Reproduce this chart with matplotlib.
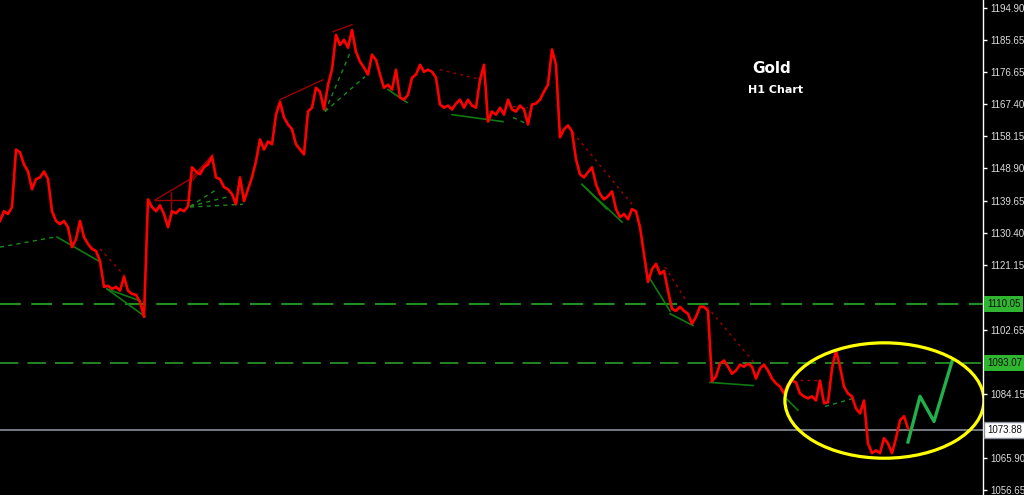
import matplotlib
matplotlib.use("Agg")
import matplotlib.pyplot as plt
from matplotlib.patches import Ellipse
from matplotlib.transforms import blended_transform_factory

# ---------------- data ----------------
# hourly closes (one sample every 4 bars of screen width)
closes = [
    1133.8, 1136.6, 1135.8, 1137.8, 1154.3, 1153.5, 1150.0, 1148.0, 1142.9, 1145.8,
    1146.3, 1148.0, 1145.8, 1136.6, 1133.8, 1132.9, 1133.8, 1132.0, 1126.3, 1128.6,
    1133.8, 1129.2, 1127.2, 1125.8, 1125.2, 1122.3, 1114.9, 1115.2, 1114.3, 1114.9,
    1113.8, 1117.8, 1113.8, 1112.9, 1112.6, 1110.6, 1106.3, 1140.0, 1137.8, 1136.6,
    1138.3, 1135.8, 1132.0, 1136.6, 1136.0, 1137.2, 1136.6, 1138.0, 1149.2, 1148.0,
    1147.2, 1149.2, 1150.0, 1152.3, 1146.3, 1145.8, 1143.5, 1142.9, 1141.5, 1138.6,
    1146.3, 1139.5, 1142.9, 1146.3, 1150.9, 1157.2, 1154.3, 1156.6, 1155.8, 1164.3,
    1168.0, 1163.5, 1161.5, 1160.1, 1155.8, 1154.3, 1152.9, 1165.2, 1166.3, 1172.0,
    1170.9, 1165.8, 1172.9, 1177.2, 1187.2, 1184.3, 1185.8, 1183.5, 1188.6, 1182.3,
    1179.5, 1177.8, 1175.8, 1181.5, 1180.0, 1175.8, 1172.0, 1172.9, 1171.5, 1177.2,
    1169.2, 1168.6, 1170.0, 1174.9, 1175.8, 1178.6, 1176.6, 1177.2, 1176.6, 1174.9,
    1167.2, 1166.3, 1166.9, 1165.8, 1167.5, 1168.6, 1166.3, 1168.6, 1166.9, 1166.3,
    1174.3, 1178.6, 1162.3, 1165.2, 1164.3, 1166.3, 1164.3, 1168.6, 1165.8, 1165.2,
    1166.9, 1165.8, 1161.5, 1167.2, 1167.5, 1168.6, 1170.9, 1172.9, 1183.0, 1178.6,
    1157.8, 1160.1, 1161.2, 1159.5, 1151.5, 1147.2, 1146.3, 1147.8, 1149.2, 1144.3,
    1141.5, 1140.0, 1140.9, 1142.3, 1137.2, 1134.9, 1135.8, 1134.3, 1137.2, 1136.6,
    1132.0, 1124.3, 1116.3, 1120.0, 1121.5, 1118.6, 1119.5, 1113.8, 1108.6, 1108.0,
    1109.2, 1108.0, 1107.2, 1104.3, 1106.3, 1109.2, 1109.2, 1108.0, 1087.8, 1089.2,
    1092.9, 1093.8, 1092.0, 1090.0, 1090.9, 1092.6, 1092.0, 1092.9, 1092.0, 1088.6,
    1091.5, 1092.6, 1090.9, 1088.6, 1087.2, 1086.3, 1084.3, 1086.9, 1088.0, 1087.5,
    1084.3, 1083.5, 1082.9, 1083.5, 1082.3, 1088.0, 1081.5, 1081.8, 1091.5, 1096.6,
    1092.0, 1086.3, 1084.3, 1083.5, 1080.0, 1078.6, 1082.3, 1070.0, 1067.2, 1068.0,
    1067.2, 1071.5, 1070.0, 1067.2, 1071.5, 1076.6, 1077.8, 1074.3,
]

# projected path (green)
proj_x = [227, 230, 233.5, 238]
proj_y = [1070.4, 1083.5, 1076.3, 1093.5]

# horizontal levels
level_upper = 1110.05
level_lower = 1093.07
last_price = 1073.88

# right axis ticks (labels hidden behind the level boxes are left blank)
tick_values = [1194.90, 1185.65, 1176.65, 1167.40, 1158.15, 1148.90, 1139.65,
               1130.40, 1121.15, 1111.90, 1102.65, 1093.40, 1084.15, 1075.15,
               1065.90, 1056.65]
tick_labels = ["1194.90", "1185.65", "1176.65", "1167.40", "1158.15", "1148.90",
               "1139.65", "1130.40", "1121.15", "", "1102.65", "", "1084.15",
               "", "1065.90", "1056.65"]

# fractal trend lines: (x0, y0, x1, y1)
red_solid = [
    (38.75, 1139.8, 48.25, 1146.3), (38.75, 1139.8, 47.5, 1139.8),
    (42.75, 1142.1, 42.75, 1135.2), (48.25, 1146.6, 53.25, 1152.9),
    (48.25, 1145.6, 52.5, 1151.5), (70, 1168.6, 80.75, 1174.3),
    (83.25, 1188.1, 88, 1190.1),
]
red_dotted = [
    (25, 1125.8, 31.25, 1118.0), (110, 1177.2, 120.5, 1174.3),
    (128.25, 1166.6, 132, 1166.3), (143.25, 1159.2, 158, 1138.6),
    (166.25, 1120.6, 171.25, 1111.5), (176.75, 1109.2, 188.75, 1092.9),
    (200, 1088.3, 205, 1088.3),
]
green_solid = [
    (14.25, 1129.2, 25, 1122.1), (26.75, 1114.3, 35, 1110.9),
    (26.75, 1114.3, 36.25, 1106.4), (97, 1171.5, 101.75, 1167.8),
    (113, 1164.3, 125.75, 1162.3), (145.5, 1144.3, 155.5, 1133.5),
    (145.5, 1144.3, 151.75, 1137.2), (162.5, 1117.2, 167.5, 1108.0),
    (167.5, 1107.2, 173.25, 1103.8), (177.5, 1087.5, 188.25, 1086.6),
    (196.25, 1083.2, 199.5, 1079.5),
]
green_dashed = [
    (0, 1126.3, 13.75, 1129.2), (47.5, 1137.8, 60.75, 1138.6),
    (47.5, 1138.0, 57.5, 1140.9), (47.5, 1138.0, 54.25, 1142.9),
    (81.25, 1165.2, 87.5, 1182.0), (81.25, 1165.2, 91.25, 1175.2),
    (128.25, 1163.5, 132, 1161.5), (206.25, 1080.6, 213.25, 1082.9),
]

# highlight ellipse: centre (x, price), width (bars), height (price)
ellipse_center = (221.1, 1082.3)
ellipse_w = 49.75
ellipse_h = 33.1

# ---------------- figure ----------------
plt.rcParams["font.family"] = ["Liberation Sans", "DejaVu Sans"]

fig = plt.figure(figsize=(10.24, 4.95), dpi=100, facecolor="black")
ax = fig.add_axes([0, 0, 983 / 1024, 1])
ax.set_facecolor("black")

ax.set_xlim(0, 245.75)
ax.set_ylim(1055.2, 1197.19)

# levels
ax.axhline(level_upper, color="#1f8f1f", lw=1.5, dashes=(10, 5), zorder=1)
ax.axhline(level_lower, color="#2ea82e", lw=1.1, dashes=(12, 6), zorder=1)
ax.axhline(last_price, color="#8a8f99", lw=1.2, zorder=1)

# trend lines
for x0, y0, x1, y1 in red_solid:
    ax.plot([x0, x1], [y0, y1], color="#a00000", lw=1.0, zorder=2)
for x0, y0, x1, y1 in red_dotted:
    ax.plot([x0, x1], [y0, y1], color="#a00000", lw=1.0, ls=(0, (2, 3)), zorder=2)
for x0, y0, x1, y1 in green_solid:
    ax.plot([x0, x1], [y0, y1], color="#0f7a0f", lw=1.2, zorder=2)
for x0, y0, x1, y1 in green_dashed:
    ax.plot([x0, x1], [y0, y1], color="#1a8a1a", lw=1.0, ls=(0, (3, 3)), zorder=2)

# price
ax.plot(range(len(closes)), closes, color="#ff0000", lw=1.9, zorder=3)

# projection
ax.plot(proj_x, proj_y, color="#22b04a", lw=2.4, zorder=4)

# ellipse
ax.add_patch(Ellipse(ellipse_center, ellipse_w, ellipse_h, fill=False,
                     edgecolor="#ffff00", lw=2.3, zorder=5))

# title
ax.text(0.785, 0.861, "Gold", transform=ax.transAxes, color="white",
        fontsize=11, fontweight="bold", ha="center", va="center",
        family=["DejaVu Sans"])
ax.text(0.789, 0.818, "H1 Chart", transform=ax.transAxes, color="white",
        fontsize=8, fontweight="bold", ha="center", va="center",
        family=["DejaVu Sans"])

# axes styling
for s in ["left", "top", "bottom"]:
    ax.spines[s].set_visible(False)
ax.spines["right"].set_color("white")
ax.spines["right"].set_linewidth(1)
ax.set_xticks([])
ax.yaxis.tick_right()
ax.set_yticks(tick_values)
ax.set_yticklabels(tick_labels)
ax.tick_params(axis="y", colors="white", labelcolor="#dcdcdc", length=3,
               width=1, labelsize=7, pad=2)

# price labels on the scale
trans = blended_transform_factory(ax.transAxes, ax.transData)
label_x = 1.004
box_kw = dict(color="#101010", fontsize=7, ha="left", va="center",
              clip_on=False, zorder=10, transform=trans)
ax.text(label_x, level_upper, f"{level_upper:.2f}",
        bbox=dict(boxstyle="square,pad=0.3", facecolor="#2fb52f", edgecolor="none"),
        **box_kw)
ax.text(label_x, level_lower, f"{level_lower:.2f}",
        bbox=dict(boxstyle="square,pad=0.3", facecolor="#2fb52f", edgecolor="none"),
        **box_kw)
ax.text(label_x, last_price, f"{last_price:.2f}",
        bbox=dict(boxstyle="square,pad=0.3", facecolor="white", edgecolor="#8a8f99"),
        **box_kw)

fig.savefig("out.png", dpi=100, facecolor="black")
